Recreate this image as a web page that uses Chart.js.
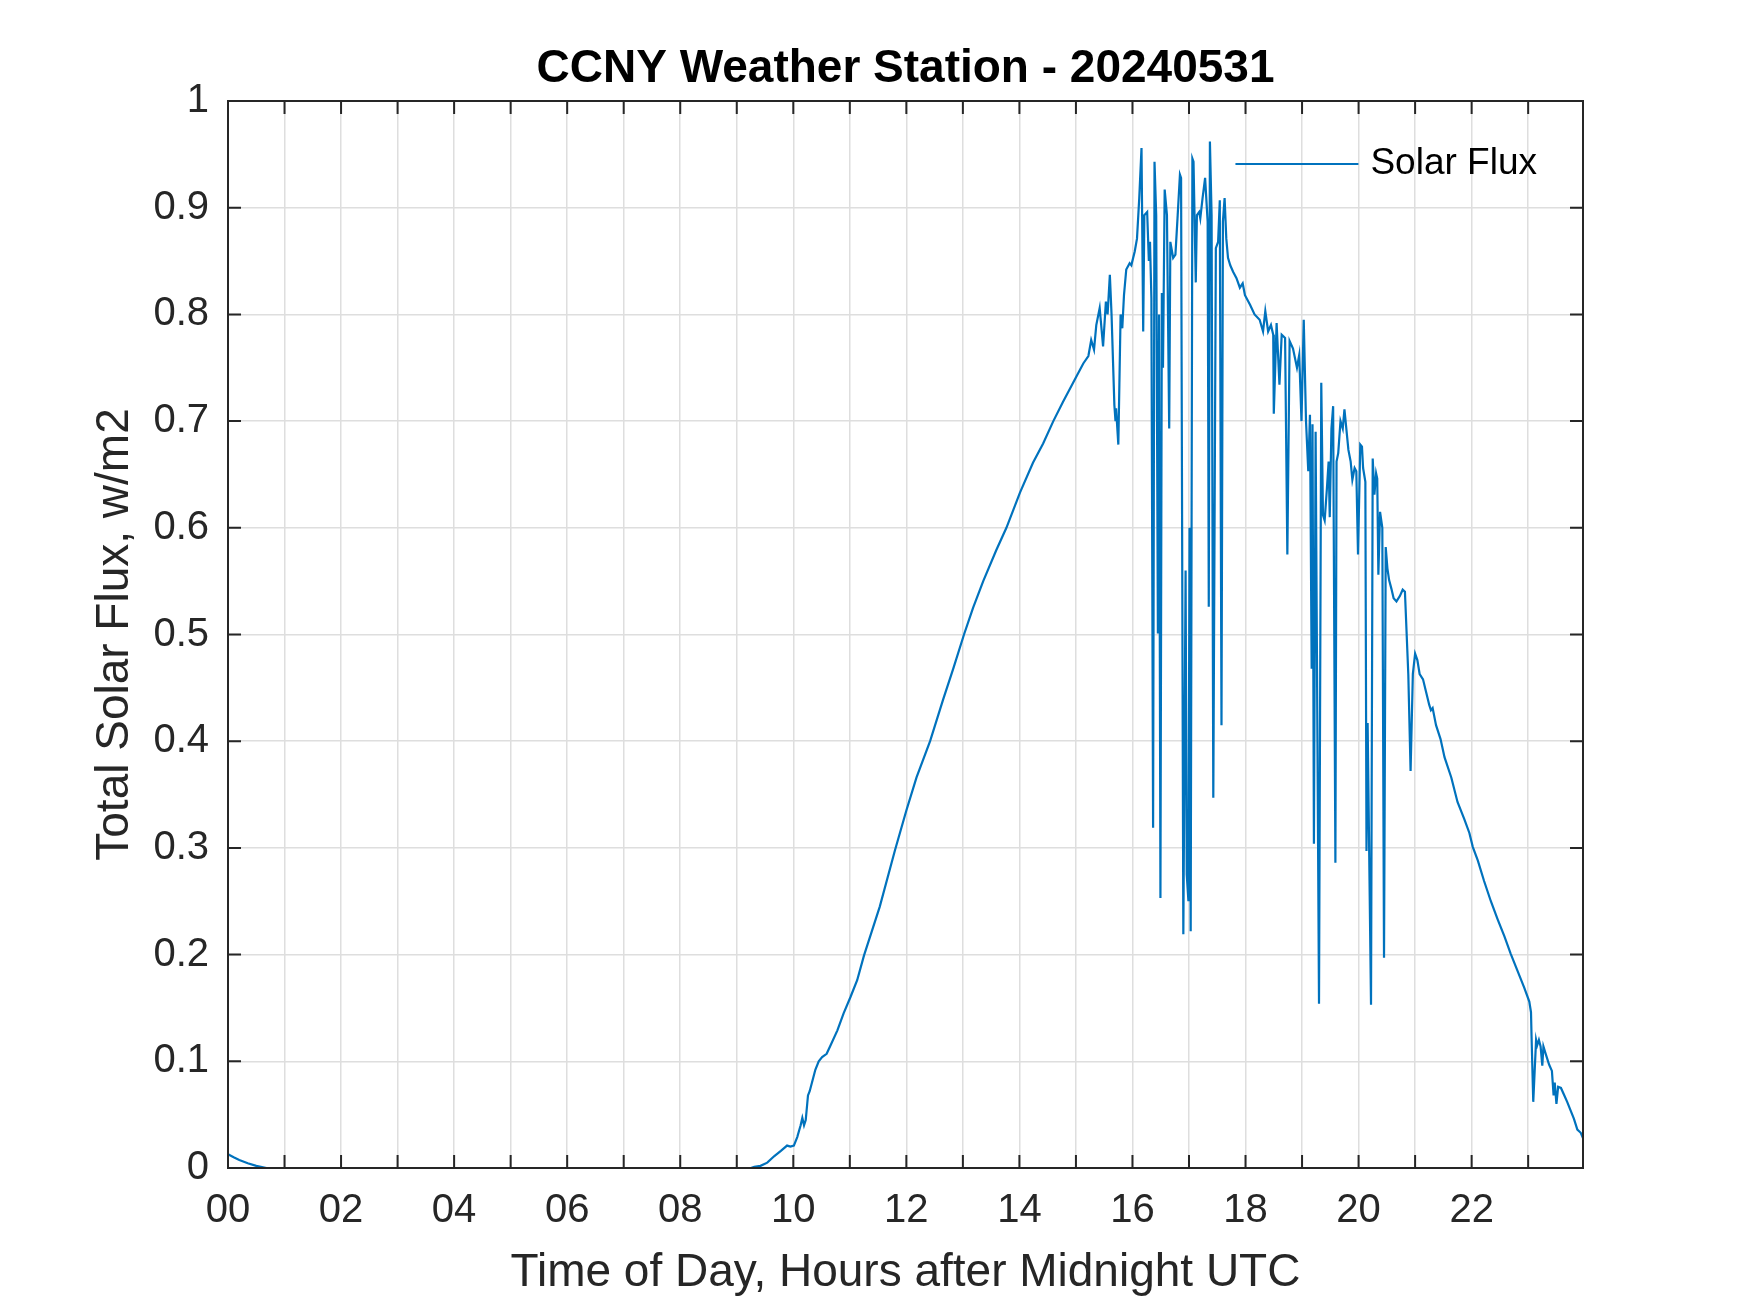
<!DOCTYPE html>
<html lang="en">
<head>
    <meta charset="UTF-8">
    <script src="https://cdn.jsdelivr.net/npm/chart.js"></script>
    <title>CCNY Weather Station - 20240531</title>
    <style>
        body { margin: 0; background: #fff; }
        canvas { display: block; }
    </style>
</head>
<body>
    <canvas id="fluxChart" width="1750" height="1313"></canvas>

    <script>
    // hours after midnight UTC, total solar flux
    const hours = [
        0, 0.1, 0.2, 0.35, 0.5, 0.68, 9.25,
        9.31, 9.42, 9.54, 9.66, 9.78, 9.89, 9.95, 10.01, 10.07, 10.13, 10.16, 10.19, 10.22,
        10.26, 10.29, 10.34, 10.39, 10.45, 10.51, 10.59, 10.66, 10.78, 10.89, 11.01, 11.13,
        11.25, 11.39, 11.53, 11.8, 12.0, 12.18, 12.42, 12.65, 12.83, 13.02, 13.18, 13.36,
        13.59, 13.77, 14.01, 14.24, 14.42, 14.6, 14.77, 14.95, 15.13, 15.22, 15.27, 15.32,
        15.36, 15.42, 15.48, 15.53, 15.56, 15.6, 15.63, 15.68, 15.7, 15.71, 15.75, 15.79,
        15.82, 15.85, 15.89, 15.95, 15.98, 16.04, 16.08, 16.12, 16.16, 16.19, 16.21, 16.26,
        16.29, 16.31, 16.335, 16.365, 16.39, 16.42, 16.45, 16.47, 16.495, 16.52, 16.54, 16.57,
        16.61, 16.65, 16.67, 16.72, 16.76, 16.8, 16.84, 16.86, 16.9, 16.94, 16.96, 16.99,
        17.01, 17.03, 17.06, 17.08, 17.12, 17.14, 17.18, 17.2, 17.24, 17.285, 17.33, 17.35,
        17.37, 17.4, 17.43, 17.475, 17.515, 17.545, 17.575, 17.6, 17.63, 17.66, 17.69, 17.73,
        17.78, 17.84, 17.9, 17.95, 17.99, 18.08, 18.16, 18.25, 18.31, 18.35, 18.4, 18.45,
        18.49, 18.5, 18.55, 18.6, 18.64, 18.7, 18.74, 18.78, 18.84, 18.91, 18.95, 18.99,
        19.03, 19.07, 19.11, 19.14, 19.17, 19.185, 19.21, 19.24, 19.3, 19.34, 19.37, 19.4,
        19.44, 19.47, 19.49, 19.52, 19.55, 19.59, 19.61, 19.64, 19.68, 19.72, 19.75, 19.82,
        19.86, 19.89, 19.93, 19.96, 19.99, 20.03, 20.06, 20.08, 20.12, 20.14, 20.16, 20.22,
        20.25, 20.28, 20.31, 20.33, 20.35, 20.38, 20.42, 20.45, 20.48, 20.51, 20.54, 20.58,
        20.62, 20.67, 20.73, 20.78, 20.82, 20.88, 20.92, 20.96, 21.0, 21.04, 21.08, 21.14,
        21.19, 21.25, 21.28, 21.31, 21.37, 21.45, 21.52, 21.64, 21.75, 21.87, 21.96, 22.02,
        22.11, 22.22, 22.34, 22.46, 22.58, 22.69, 22.81, 22.93, 23.02, 23.05, 23.06, 23.09,
        23.14, 23.16, 23.19, 23.22, 23.25, 23.27, 23.31, 23.37, 23.42, 23.45, 23.47, 23.5,
        23.53, 23.58, 23.64, 23.69, 23.75, 23.81, 23.87, 23.93, 23.97
    ];
    const flux = [
        0.013, 0.010, 0.0075, 0.0045, 0.002, 0, 0,
        0.001, 0.002, 0.005, 0.011, 0.016, 0.021, 0.020, 0.021, 0.029, 0.040, 0.047, 0.040, 0.045,
        0.068, 0.072, 0.082, 0.092, 0.100, 0.104, 0.107, 0.115, 0.129, 0.145, 0.160, 0.176,
        0.199, 0.222, 0.245, 0.298, 0.335, 0.366, 0.400, 0.439, 0.468, 0.500, 0.525, 0.550,
        0.579, 0.600, 0.633, 0.661, 0.679, 0.700, 0.718, 0.736, 0.754, 0.761, 0.776, 0.767,
        0.790, 0.806, 0.770, 0.812, 0.800, 0.837, 0.800, 0.715, 0.700, 0.712, 0.678, 0.800,
        0.787, 0.818, 0.842, 0.848, 0.846, 0.859, 0.871, 0.909, 0.956, 0.784, 0.893, 0.896,
        0.850, 0.868, 0.815, 0.319, 0.943, 0.893, 0.501, 0.800, 0.253, 0.820, 0.750, 0.917,
        0.893, 0.693, 0.868, 0.853, 0.856, 0.893, 0.931, 0.928, 0.219, 0.560, 0.275, 0.250,
        0.600, 0.222, 0.946, 0.943, 0.830, 0.893, 0.896, 0.890, 0.909, 0.928, 0.887, 0.526,
        0.962, 0.893, 0.347, 0.862, 0.868, 0.907, 0.415, 0.887, 0.909, 0.871, 0.853, 0.846,
        0.840, 0.834, 0.825, 0.829, 0.818, 0.809, 0.800, 0.795, 0.784, 0.803, 0.784, 0.790,
        0.781, 0.707, 0.792, 0.734, 0.781, 0.778, 0.575, 0.775, 0.768, 0.750, 0.762, 0.700,
        0.795, 0.700, 0.653, 0.706, 0.468, 0.697, 0.304, 0.690, 0.154, 0.736, 0.612, 0.607,
        0.637, 0.662, 0.610, 0.693, 0.714, 0.286, 0.662, 0.670, 0.700, 0.693, 0.711, 0.673,
        0.662, 0.645, 0.656, 0.653, 0.575, 0.678, 0.676, 0.656, 0.643, 0.297, 0.417, 0.153,
        0.665, 0.631, 0.651, 0.646, 0.556, 0.615, 0.600, 0.197, 0.582, 0.562, 0.551, 0.543,
        0.534, 0.531, 0.536, 0.542, 0.540, 0.462, 0.372, 0.463, 0.482, 0.476, 0.463, 0.458,
        0.447, 0.434, 0.429, 0.431, 0.415, 0.402, 0.385, 0.366, 0.343, 0.327, 0.314, 0.301,
        0.288, 0.269, 0.250, 0.233, 0.217, 0.201, 0.185, 0.169, 0.156, 0.146, 0.123, 0.062,
        0.120, 0.115, 0.120, 0.114, 0.096, 0.114, 0.107, 0.097, 0.091, 0.068, 0.080, 0.060,
        0.076, 0.075, 0.068, 0.062, 0.054, 0.046, 0.036, 0.033, 0.028
    ];
    const hourTickLabels = ['00', '02', '04', '06', '08', '10', '12', '14', '16', '18', '20', '22'];

    const FONT = '"Liberation Sans", Arial, Helvetica, sans-serif';
    const AXIS_COLOR = '#262626';
    const GRID_COLOR = '#dedede';

    // matlab style box with inward tick marks on all four sides
    const frameTicks = {
        id: 'frameTicks',
        afterDatasetsDraw(chart) {
            const {ctx, chartArea: a, scales: {x, y}} = chart;
            const len = 13;
            ctx.save();
            ctx.strokeStyle = AXIS_COLOR;
            ctx.lineWidth = 2;
            ctx.beginPath();
            x.ticks.forEach(t => {
                const px = x.getPixelForValue(t.value);
                ctx.moveTo(px, a.bottom); ctx.lineTo(px, a.bottom - len);
                ctx.moveTo(px, a.top); ctx.lineTo(px, a.top + len);
            });
            y.ticks.forEach(t => {
                const py = y.getPixelForValue(t.value);
                ctx.moveTo(a.left, py); ctx.lineTo(a.left + len, py);
                ctx.moveTo(a.right, py); ctx.lineTo(a.right - len, py);
            });
            ctx.stroke();
            ctx.strokeRect(a.left, a.top, a.right - a.left, a.bottom - a.top);
            ctx.restore();
        }
    };

    // legend sits inside the axes, top right, no box
    const insideLegend = {
        id: 'insideLegend',
        afterDatasetsDraw(chart) {
            const {ctx, chartArea: a} = chart;
            const ds = chart.data.datasets[0];
            const y = a.top + 63;
            ctx.save();
            ctx.font = '37px ' + FONT;
            const textLeft = a.right - 46 - ctx.measureText(ds.label).width;
            ctx.strokeStyle = ds.borderColor;
            ctx.lineWidth = ds.borderWidth;
            ctx.beginPath();
            ctx.moveTo(textLeft - 135, y);
            ctx.lineTo(textLeft - 12, y);
            ctx.stroke();
            ctx.fillStyle = '#000';
            ctx.textBaseline = 'middle';
            ctx.fillText(ds.label, textLeft, y);
            ctx.restore();
        }
    };

    const points = hours.map((h, i) => ({x: h, y: flux[i]}));
    const ctx = document.getElementById('fluxChart');

    new Chart(ctx, {
        type: 'line',
        data: {
            datasets: [{
                label: 'Solar Flux',
                data: points,
                borderColor: '#0072BD',
                backgroundColor: '#0072BD',
                borderWidth: 2.2,
                pointRadius: 0,
                tension: 0
            }]
        },
        options: {
            responsive: false,
            animation: false,
            devicePixelRatio: 1,
            layout: {
                padding: {left: 0, right: 167, top: 0, bottom: 0}
            },
            plugins: {
                legend: {display: false},
                tooltip: {enabled: false},
                title: {
                    display: true,
                    fullSize: false,
                    text: 'CCNY Weather Station - 20240531',
                    color: '#000',
                    font: {family: FONT, size: 46, weight: 'bold', lineHeight: 1.2},
                    padding: {top: 42, bottom: 3.8}
                }
            },
            scales: {
                x: {
                    type: 'linear',
                    min: 0,
                    max: 23.97,
                    afterFit: s => { s.height = 145; },
                    grid: {color: GRID_COLOR, lineWidth: 1.5, drawTicks: false},
                    border: {display: false},
                    ticks: {
                        stepSize: 1,
                        includeBounds: false,
                        autoSkip: false,
                        maxRotation: 0,
                        padding: 19,
                        color: AXIS_COLOR,
                        font: {family: FONT, size: 40},
                        callback: v => (v % 2 === 0 ? hourTickLabels[v / 2] : '')
                    },
                    title: {
                        display: true,
                        text: 'Time of Day, Hours after Midnight UTC',
                        color: AXIS_COLOR,
                        font: {family: FONT, size: 46, lineHeight: 1.2},
                        padding: {top: 0, bottom: 12.5}
                    }
                },
                y: {
                    min: 0,
                    max: 1,
                    afterFit: s => { s.width = 228; },
                    grid: {color: GRID_COLOR, lineWidth: 1.5, drawTicks: false},
                    border: {display: false},
                    ticks: {
                        stepSize: 0.1,
                        padding: 19,
                        color: AXIS_COLOR,
                        font: {family: FONT, size: 40},
                        callback: v => String(Math.round(v * 10) / 10)
                    },
                    title: {
                        display: true,
                        text: 'Total Solar Flux, w/m2',
                        color: AXIS_COLOR,
                        font: {family: FONT, size: 46, lineHeight: 1.2},
                        padding: {top: 87.5, bottom: 0}
                    }
                }
            }
        },
        plugins: [frameTicks, insideLegend]
    });
    </script>
</body>
</html>
